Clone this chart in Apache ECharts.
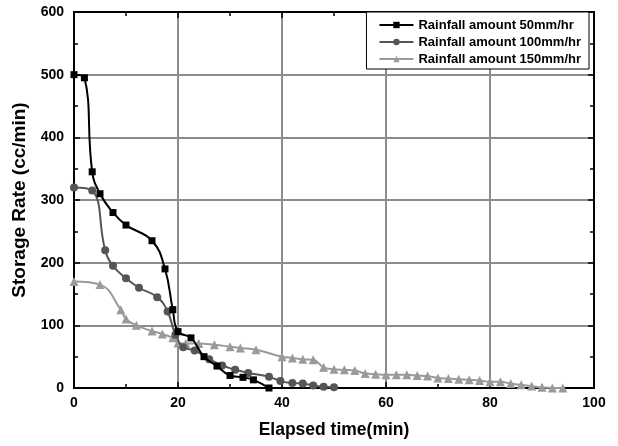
<!DOCTYPE html>
<html>
<head>
<meta charset="utf-8">
<script src="https://cdn.jsdelivr.net/npm/echarts@6/dist/echarts.min.js"></script>
<style>html,body{margin:0;padding:0;background:#fff;}#c{width:618px;height:446px;}</style>
</head>
<body>
<div id="c"></div>
<script>
var seriesNames = ['Rainfall amount 50mm/hr', 'Rainfall amount 100mm/hr', 'Rainfall amount 150mm/hr'];
var xTitle = 'Elapsed time(min)';
var yTitle = 'Storage Rate (cc/min)';
var rain50 = [[0,500],[2,495],[3.5,345],[5,310],[7.5,280],[10,260],[15,235],[17.5,190],[19,125],[20,90],[22.5,80],[25,50],[27.5,35],[30,20],[32.5,17],[34.5,13],[37.5,0]];
var rain100 = [[0,320],[3.5,315],[6,220],[7.5,195],[10,175],[12.5,160],[16,145],[18,122],[19.5,85],[21,65],[23.2,60],[26,46],[28.5,36],[31,29],[33.5,24],[37.5,18],[39.7,11],[42,8],[44,7],[46,4],[48,2],[50,1]];
var rain150 = [[0,170],[5,165],[9,125],[10,110],[12,100],[15,91],[17,86],[19,80],[20,72],[21.5,71],[24,71],[27,69],[30,66],[32,64],[35,61],[40,50],[42,48],[44,46],[46,45],[48,33],[50,30],[52,29],[54,28],[56,23],[58,22],[60,21],[62,21],[64,21],[66,20],[68,19],[70,16],[72,15],[74,14],[76,13],[78,12],[80,10],[82,10],[84,7],[86,5],[88,3],[90,1],[92,0],[94,0]];

var FONT = '"Liberation Sans", Arial, sans-serif';
var chart = echarts.init(document.getElementById('c'));
function axisCommon(extra){
  var base = {
    axisLine:{show:true,onZero:false,lineStyle:{color:'#000',width:2}},
    axisTick:{show:true,inside:true,length:6,lineStyle:{color:'#000',width:1.5}},
    minorTick:{show:true,splitNumber:2,length:4,lineStyle:{color:'#000',width:1.5}}
  };
  for (var k in extra) base[k]=extra[k];
  return base;
}
chart.setOption({
  animation:false,
  backgroundColor:'#fff',
  grid:{left:74,right:24,top:12,bottom:58},
  legend:{
    orient:'vertical', right:29, top:12,
    backgroundColor:'#fff', borderColor:'#000', borderWidth:1,
    padding:[6,8,3,12], itemGap:3, itemWidth:34, itemHeight:8,
    textStyle:{fontFamily:FONT,fontWeight:'bold',fontSize:13,color:'#000',lineHeight:14},
    data:seriesNames
  },
  xAxis:[
    axisCommon({type:'value',min:0,max:100,interval:20,position:'bottom',
      name:xTitle,nameLocation:'middle',nameGap:33,
      nameTextStyle:{fontFamily:FONT,fontWeight:'bold',fontSize:17.5,color:'#000'},
      axisLabel:{fontFamily:FONT,fontWeight:'bold',fontSize:14,color:'#000',margin:8},
      splitLine:{show:true,lineStyle:{color:'#8c8c8c',width:2}}}),
    axisCommon({type:'value',min:0,max:100,interval:20,position:'top',
      axisLabel:{show:false},splitLine:{show:false}})
  ],
  yAxis:[
    axisCommon({type:'value',min:0,max:600,interval:100,position:'left',
      name:yTitle,nameLocation:'middle',nameGap:39,
      nameTextStyle:{fontFamily:FONT,fontWeight:'bold',fontSize:19,color:'#000'},
      axisLabel:{fontFamily:FONT,fontWeight:'bold',fontSize:14,color:'#000',margin:10},
      splitLine:{show:true,lineStyle:{color:'#8c8c8c',width:2}}}),
    axisCommon({type:'value',min:0,max:600,interval:100,position:'right',
      axisLabel:{show:false},splitLine:{show:false}})
  ],
  series:[
    {name:seriesNames[0],type:'line',data:rain50,smooth:0.45,z:5,
     symbol:'rect',symbolSize:7,showAllSymbol:true,
     lineStyle:{color:'#000',width:2},itemStyle:{color:'#000'}},
    {name:seriesNames[1],type:'line',data:rain100,smooth:0.45,z:4,
     symbol:'circle',symbolSize:8,showAllSymbol:true,
     lineStyle:{color:'#555',width:2},itemStyle:{color:'#555'}},
    {name:seriesNames[2],type:'line',data:rain150,smooth:0.45,z:3,
     symbol:'triangle',symbolSize:9,showAllSymbol:true,
     lineStyle:{color:'#9a9a9a',width:2},itemStyle:{color:'#9a9a9a'}}
  ]
});
</script>
</body>
</html>
